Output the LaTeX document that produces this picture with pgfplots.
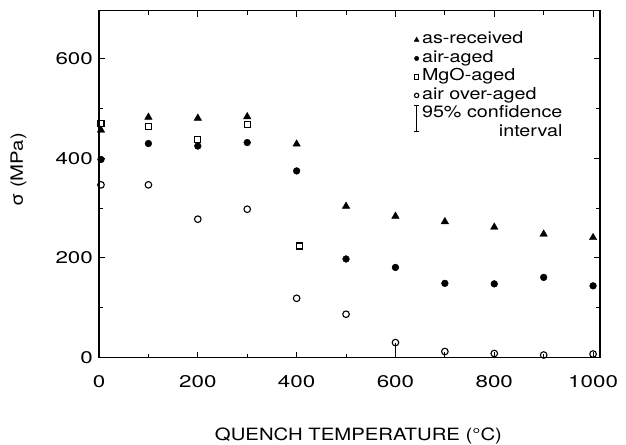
\documentclass[border=0pt]{standalone}
\usepackage{fontspec}
\setmainfont{TeX Gyre Heros}[FakeStretch=1.2]
\newfontfamily\tickfont{TeX Gyre Heros}[FakeStretch=1.32]
\usepackage{pgfplots}
\pgfplotsset{compat=1.18}
\pgfplotsset{
    smallmark/.style={legend image code/.code={\draw[##1, mark size=#1] plot coordinates {(0bp,0bp)};}},
}

\begin{document}
\begin{tikzpicture}
\path[use as bounding box] (-99bp,-87.5bp) rectangle (527bp,357.5bp);
\begin{axis}[
    scale only axis,
    width=501bp, height=346.8bp,
    xmin=0, xmax=1014,
    ymin=0, ymax=697,
    xtick={0,200,...,1000},
    ytick={0,200,400,600},
    minor x tick num=1,
    minor y tick num=1,
    tick align=inside,
    major tick length=6bp,
    minor tick length=4bp,
    axis line style={line width=1.5bp},
    every tick/.style={line width=1bp, black},
    /pgf/number format/assume math mode=true,
    /pgf/number format/1000 sep={},
    tick label style={font=\tickfont\fontsize{17}{17}\selectfont},
    xticklabel style={anchor=base, yshift=-29.5bp},
    yticklabel style={anchor=east, inner xsep=0pt, xshift=-6bp},
    label style={font=\fontsize{17}{17}\selectfont},
    xlabel={QUENCH TEMPERATURE (°C)},
    ylabel={σ (MPa)},
    xlabel style={at={(axis description cs:0.5,0)}, anchor=center, yshift=-78.5bp, xshift=9bp},
    ylabel style={at={(axis description cs:-0.1607,0.5407)}, anchor=center},
    clip=false,
    legend cell align=left,
    legend style={at={(axis description cs:0,0)}, anchor=north west,
        xshift=315bp, yshift=327bp, draw=none, fill=none, inner sep=0pt,
        font=\fontsize{16.5}{16.5}\selectfont,
        nodes={inner ysep=0pt, inner xsep=3bp, text height=13bp, text depth=5.5bp}},
]
% as-received
\addplot[only marks, mark=triangle*, mark size=4.3bp, black, smallmark=2.8bp]
coordinates {
    (4,457) (100,483) (200,481) (300,484) (400,429) (500,304)
    (600,284) (700,273) (800,262) (900,248) (1000,241)
};
\addlegendentry{as-received}
% air-aged
\addplot[only marks, mark=*, mark size=3.4bp, black, smallmark=2.2bp]
coordinates {
    (4,398) (100,430) (200,425) (300,432) (400,375) (500,198)
    (600,181) (700,149) (800,148) (900,161) (1000,144)
};
\addlegendentry{air-aged}
% MgO-aged
\addplot[only marks, mark=square, mark size=3bp, black, line width=1.1bp,
    mark options={fill=white}, smallmark=2.2bp]
coordinates {
    (4,471) (100,465) (200,438) (300,469) (406,224)
};
\addlegendentry{MgO-aged}
% air over-aged, with lower confidence bars
\addplot[only marks, mark=o, mark size=3.3bp, black, line width=1.1bp,
    mark options={fill=white}, smallmark=2.2bp,
    error bars/.cd, y dir=minus, y explicit, error mark=none,
    error bar style={line width=1bp}]
coordinates {
    (4,347) -= (0,0) (100,347) -= (0,0) (200,278) -= (0,0) (300,298) -= (0,0)
    (400,119) -= (0,0) (500,87) -= (0,0) (600,30) -= (0,30) (700,12) -= (0,12)
    (800,8) -= (0,8) (900,5) -= (0,5) (1000,7) -= (0,7)
};
\addlegendentry{air over-aged}
\addlegendimage{legend image code/.code={
    \draw[overlay, line width=1bp] (0bp,-18bp) -- (0bp,8bp);
    \draw[overlay, line width=1bp] (-2.5bp,-18bp) -- (2.5bp,-18bp);
    \draw[overlay, line width=1bp] (-2.5bp,8bp) -- (2.5bp,8bp);}}
\addlegendentry{95\% confidence}
\addlegendimage{empty legend}
\addlegendentry{\phantom{95\% confidence}\llap{interval}}
\end{axis}
\end{tikzpicture}
\end{document}
